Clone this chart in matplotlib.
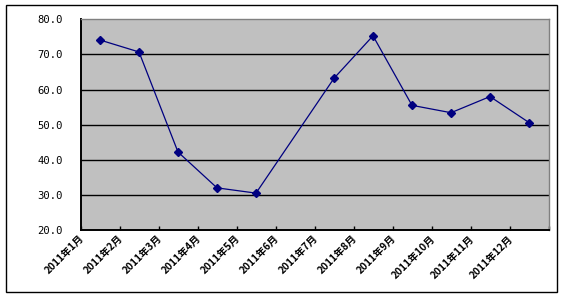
import numpy as np
import matplotlib
matplotlib.use("Agg")
import matplotlib.pyplot as plt
from matplotlib.patches import Rectangle
import matplotlib.transforms as mtransforms

plt.rcParams['font.family'] = ['Noto Sans CJK SC', 'DejaVu Sans']

categories = ["2011年1月", "2011年2月", "2011年3月", "2011年4月", "2011年5月", "2011年6月",
              "2011年7月", "2011年8月", "2011年9月", "2011年10月", "2011年11月", "2011年12月"]
values = [74.1, 70.7, 42.2, 32.0, 30.5, np.nan, 63.2, 75.3, 55.5, 53.4, 58.0, 50.6]
y_ticks = [20, 30, 40, 50, 60, 70, 80]
y_tick_labels = ["20.0", "30.0", "40.0", "50.0", "60.0", "70.0", "80.0"]

W, H = 564, 297
fig = plt.figure(figsize=(W / 100, H / 100), dpi=100)
fig.patch.set_facecolor('white')

# outer border
fig.patches.append(Rectangle((5.5 / W, 1 - 292 / H), (557 - 5.5) / W, (292 - 4.5) / H,
                             transform=fig.transFigure, fill=False, edgecolor='black',
                             linewidth=1.0))

left, right, top, bottom = 80.5, 548.5, 19.3, 230.0
ax = fig.add_axes([left / W, 1 - bottom / H, (right - left) / W, (bottom - top) / H])
ax.set_facecolor('#C0C0C0')

n = len(categories)
x = np.arange(n)
vals = np.array(values, dtype=float)
mask = ~np.isnan(vals)
ax.plot(x[mask], vals[mask], color='#000080', linewidth=0.9, marker='D',
        markersize=3.8, markerfacecolor='#000080', markeredgecolor='#000080', zorder=3)

ax.set_xlim(-0.5, n - 0.5)
ax.set_ylim(20, 80)

# grid lines
for yv in y_ticks[1:-1]:
    ax.axhline(yv, color='black', linewidth=1.0, zorder=1)

ax.set_yticks(y_ticks)
ax.set_yticklabels(y_tick_labels, family='DejaVu Sans Mono', fontsize=7.6)
ax.tick_params(axis='y', length=0, pad=12.5)

ax.set_xticks(np.arange(-0.5, n, 1.0))
ax.set_xticklabels([])
ax.tick_params(axis='x', direction='in', length=3, width=1.0)

for side in ['top', 'right']:
    ax.spines[side].set_color('#808080')
    ax.spines[side].set_linewidth(1.0)
for side in ['left', 'bottom']:
    ax.spines[side].set_color('black')
    ax.spines[side].set_linewidth(1.4)

# rotated category labels
offset = mtransforms.ScaledTranslation(2 / 100, -7 / 100, fig.dpi_scale_trans)
trans = mtransforms.blended_transform_factory(ax.transData, ax.transAxes) + offset
for i, lab in enumerate(categories):
    ax.text(i - 0.5, 0, lab, transform=trans, rotation=45, rotation_mode='anchor',
            ha='right', va='center', fontsize=7.3, fontweight='bold')

fig.savefig('out.png', dpi=100)
